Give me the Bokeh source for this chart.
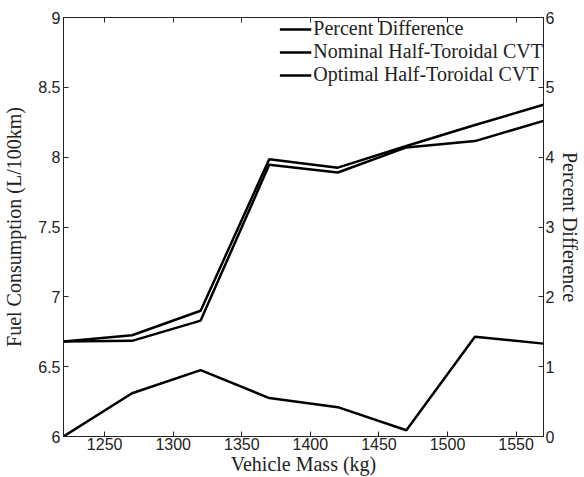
from bokeh.plotting import figure
from bokeh.models import LinearAxis, Range1d, FixedTicker, Legend, LegendItem
from bokeh.embed import file_html
from bokeh.resources import INLINE

mass = [1220, 1270, 1320, 1370, 1420, 1470, 1520, 1570]
nominal = [6.68, 6.725, 6.90, 7.985, 7.925, 8.08, 8.23, 8.375]
optimal = [6.68, 6.685, 6.83, 7.945, 7.89, 8.07, 8.115, 8.26]
pct_diff = [0.0, 0.62, 0.95, 0.55, 0.42, 0.09, 1.43, 1.33]

x_ticks = [1250, 1300, 1350, 1400, 1450, 1500, 1550]
y_ticks = [6, 6.5, 7, 7.5, 8, 8.5, 9]
pct_ticks = [0, 1, 2, 3, 4, 5, 6]

SERIF = "Liberation Serif"
SANS = "Liberation Sans"

p = figure(width=584, height=477, output_backend="svg", toolbar_location=None,
           x_range=Range1d(1220, 1570), y_range=Range1d(6, 9),
           min_border_left=62, min_border_right=35, min_border_top=17, min_border_bottom=36)
p.background_fill_color = "white"
p.border_fill_color = "white"
p.outline_line_color = "#222222"
p.outline_line_width = 1
p.grid.visible = False
p.extra_y_ranges = {"pct": Range1d(0, 6)}

def style_axis(ax):
    ax.major_tick_in = 5
    ax.major_tick_out = 0
    ax.minor_tick_line_color = None
    ax.axis_line_color = "#222222"
    ax.major_tick_line_color = "#222222"
    ax.major_label_text_font = SANS
    ax.major_label_text_font_size = "16px"
    ax.major_label_text_color = "#222222"
    ax.major_label_standoff = 3
    ax.axis_label_text_font = SERIF
    ax.axis_label_text_font_style = "normal"
    ax.axis_label_text_font_size = "20px"
    ax.axis_label_text_color = "#222222"

xa = p.xaxis[0]
xa.ticker = FixedTicker(ticks=x_ticks)
xa.axis_label = "Vehicle Mass (kg)"
style_axis(xa)
xa.major_label_standoff = 1
xa.axis_label_standoff = 0

ya = p.yaxis[0]
ya.ticker = FixedTicker(ticks=y_ticks)
ya.axis_label = "Fuel Consumption (L/100km)"
style_axis(ya)
ya.axis_label_standoff = 10

ra = LinearAxis(y_range_name="pct", ticker=FixedTicker(ticks=pct_ticks),
                axis_label="Percent Difference")
style_axis(ra)
ra.major_label_standoff = 2
ra.axis_label_standoff = 2
p.add_layout(ra, "right")

ta = LinearAxis(ticker=FixedTicker(ticks=x_ticks))
style_axis(ta)
ta.major_label_overrides = {t: "" for t in x_ticks}
ta.major_label_standoff = 0
p.add_layout(ta, "above")

r_pct = p.line(mass, pct_diff, y_range_name="pct", line_color="black", line_width=2.5)
r_nom = p.line(mass, nominal, line_color="black", line_width=2.5)
r_opt = p.line(mass, optimal, line_color="black", line_width=2.5)

legend = Legend(items=[
    LegendItem(label="Percent Difference", renderers=[r_pct]),
    LegendItem(label="Nominal Half-Toroidal CVT", renderers=[r_nom]),
    LegendItem(label="Optimal Half-Toroidal CVT", renderers=[r_opt]),
], location="top_right")
legend.border_line_color = None
legend.background_fill_alpha = 0
legend.label_text_font = SERIF
legend.label_text_font_size = "20px"
legend.label_text_color = "#222222"
legend.glyph_width = 32
legend.glyph_height = 20
legend.label_height = 20
legend.label_standoff = 2
legend.spacing = 0
legend.padding = 3
legend.margin = 0
p.add_layout(legend)

open("out.html", "w").write(file_html(p, INLINE))
